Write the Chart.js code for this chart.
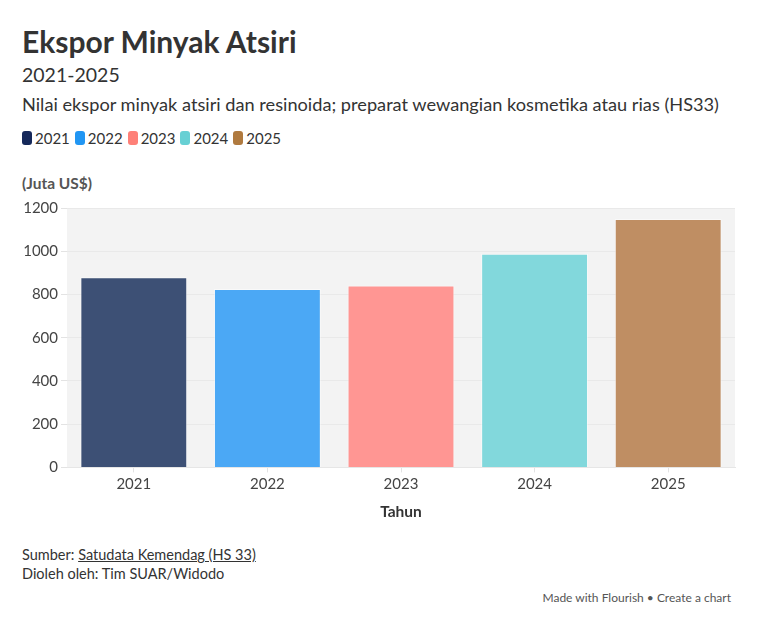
<!DOCTYPE html>
<html>
<head>
<meta charset="utf-8">
<script src="https://cdn.jsdelivr.net/npm/chart.js@4"></script>
<style>
  html, body { margin: 0; padding: 0; background: #fff; }
  body { width: 757px; height: 628px; position: relative; font-family: Lato, sans-serif; color: #333; overflow: hidden; }
  .abs { position: absolute; white-space: nowrap; }
  #title { left: 22px; top: 23px; font-size: 30px; font-weight: 700; color: #333; }
  #subtitle { left: 22px; top: 63px; font-size: 19.5px; color: #333; }
  #desc { left: 22px; top: 93px; font-size: 18.2px; color: #333; }
  #legend { left: 22px; top: 129px; font-size: 15px; color: #333; display: flex; gap: 5px; }
  #legend span.item { display: flex; align-items: center; }
  #legend i { display: inline-block; width: 10px; height: 14px; border-radius: 3px; margin-right: 3px; }
  #unit { left: 22px; top: 174px; font-size: 15.5px; font-weight: 700; color: #555; }
  #chartBox { position: absolute; left: 20px; top: 196px; width: 720px; height: 329px; }
  #source { left: 22px; top: 545px; font-size: 14.5px; color: #333; line-height: 19px; }
  #source a { color: #333; text-decoration: underline; }
  #credit { right: 26px; top: 590px; font-size: 12px; color: #555; }
</style>
</head>
<body>
<div id="title" class="abs">Ekspor Minyak Atsiri</div>
<div id="subtitle" class="abs">2021-2025</div>
<div id="desc" class="abs">Nilai ekspor minyak atsiri dan resinoida; preparat wewangian kosmetika atau rias (HS33)</div>
<div id="legend" class="abs"></div>
<div id="unit" class="abs">(Juta US$)</div>
<div id="chartBox"><canvas id="chart"></canvas></div>
<div id="source" class="abs">Sumber: <a>Satudata Kemendag (HS 33)</a><br>Dioleh oleh: Tim SUAR/Widodo</div>
<div id="credit" class="abs">Made with Flourish • Create a chart</div>
<script>
const years = ['2021', '2022', '2023', '2024', '2025'];
const exportValues = [880, 825, 842, 988, 1149];
const legendColors = ['#15285a', '#2196f3', '#fe8078', '#67d0d4', '#b07a3f'];
const barColors = ['#3d5075', '#4ba8f5', '#ff9693', '#82d8dc', '#bf8e63'];
const yTicks = [0, 200, 400, 600, 800, 1000, 1200];

const legend = document.getElementById('legend');
years.forEach((y, i) => {
  const item = document.createElement('span');
  item.className = 'item';
  item.innerHTML = `<i style="background:${legendColors[i]}"></i>${y}`;
  legend.appendChild(item);
});

const plotBg = {
  id: 'plotBg',
  beforeDraw(chart) {
    const { ctx, chartArea: a } = chart;
    ctx.save();
    ctx.fillStyle = '#f3f3f3';
    ctx.fillRect(a.left, a.top, a.right - a.left, a.bottom - a.top);
    ctx.restore();
  }
};

const tickFont = { family: 'Lato, sans-serif', size: 15 };

new Chart(document.getElementById('chart'), {
  type: 'bar',
  data: {
    labels: years,
    datasets: [{
      label: 'Ekspor',
      data: exportValues,
      backgroundColor: barColors,
      borderColor: 'rgba(255,255,255,0.5)',
      borderWidth: 1,
      barPercentage: 0.8,
      categoryPercentage: 1
    }]
  },
  options: {
    responsive: true,
    maintainAspectRatio: false,
    animation: false,
    layout: { padding: { top: 4, right: 5 } },
    plugins: { legend: { display: false }, tooltip: { enabled: false } },
    scales: {
      y: {
        min: 0,
        max: 1200,
        afterBuildTicks(axis) { axis.ticks = yTicks.map((v) => ({ value: v })); },
        afterFit(axis) { axis.width = 47; },
        grid: { color: '#e9e9e9', tickLength: 6, drawTicks: true, tickColor: '#e3e3e3' },
        border: { display: false },
        ticks: { color: '#444', font: tickFont, padding: 3, callback: (v) => String(v) }
      },
      x: {
        grid: { display: true, drawOnChartArea: false, offset: false, tickLength: 5, tickColor: '#e3e3e3' },
        border: { color: '#e6e6e6' },
        ticks: { color: '#444', font: tickFont, padding: 3 },
        title: { display: true, text: 'Tahun', color: '#333', font: { family: 'Lato, sans-serif', size: 15.5, weight: 'bold' }, padding: { top: 6 } }
      }
    }
  },
  plugins: [plotBg]
});
</script>
</body>
</html>
